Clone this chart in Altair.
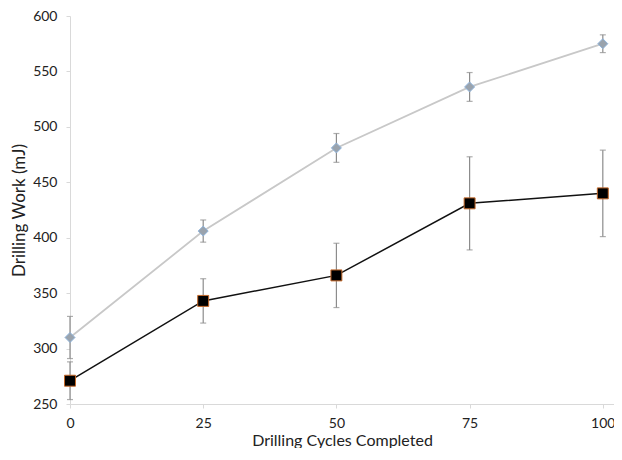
import altair as alt
import pandas as pd

cycles = [0, 25, 50, 75, 100]
gray_mean = [310, 406, 481, 536, 575]
gray_err = [19, 10, 13, 13, 8]
black_mean = [271, 343, 366, 431, 440]
black_err = [17, 20, 29, 42, 39]
x_ticks = [0, 25, 50, 75, 100]
y_ticks = [250, 300, 350, 400, 450, 500, 550, 600]

rows = []
for s, m, e in (("A", gray_mean, gray_err), ("B", black_mean, black_err)):
    for x, v, d in zip(cycles, m, e):
        rows.append({"series": s, "x": x, "y": v, "lo": v - d, "hi": v + d})
df = pd.DataFrame(rows)

xs = alt.Scale(domain=[0, 102.1], nice=False, zero=False)
ys = alt.Scale(domain=[250, 600], nice=False, zero=False)

X = alt.X("x:Q", scale=xs, title="Drilling Cycles Completed",
          axis=alt.Axis(values=x_ticks, grid=False, domainColor="#d9d9d9", tickColor="#d9d9d9",
                        tickSize=4, labelPadding=8, titlePadding=2, labelFontSize=14,
                        labelFlush=False,
                        titleFontSize=16, titleFontWeight="normal", labelColor="#222",
                        titleColor="#222", labelFont="Lato", titleFont="Lato"))
Y = alt.Y("y:Q", scale=ys, title="Drilling Work (mJ)",
          axis=alt.Axis(values=y_ticks, grid=False, domainColor="#d9d9d9", tickColor="#d9d9d9",
                        tickSize=4, labelPadding=9, titlePadding=4, labelFontSize=14,
                        titleFontSize=17, titleFontWeight="normal", labelColor="#222",
                        titleColor="#222", labelFont="Lato", titleFont="Lato"))

base = alt.Chart(df)

line_a = base.transform_filter("datum.series == 'A'").mark_line(color="#c8c8c8", strokeWidth=1.8).encode(x=X, y=Y)
line_b = base.transform_filter("datum.series == 'B'").mark_line(color="#111111", strokeWidth=1.5).encode(x=X, y=Y)

err = base.mark_rule(color="#8c8c8c", strokeWidth=1.2).encode(
    x=alt.X("x:Q", scale=xs), y=alt.Y("lo:Q", scale=ys), y2="hi:Q")
cap_lo = base.mark_tick(color="#8c8c8c", orient="horizontal", size=6, thickness=1.2).encode(
    x=alt.X("x:Q", scale=xs), y=alt.Y("lo:Q", scale=ys))
cap_hi = base.mark_tick(color="#8c8c8c", orient="horizontal", size=6, thickness=1.2).encode(
    x=alt.X("x:Q", scale=xs), y=alt.Y("hi:Q", scale=ys))

pts_a = base.transform_filter("datum.series == 'A'").mark_point(
    shape="diamond", filled=True, size=100, color="#9aa3ad", stroke="#8fb4dc", strokeWidth=1, opacity=1
).encode(x=X, y=Y)
pts_b = base.transform_filter("datum.series == 'B'").mark_point(
    shape="square", filled=True, size=120, color="#000000", stroke="#c5692a", strokeWidth=1, opacity=1
).encode(x=X, y=Y)

chart = alt.layer(line_a, line_b, err, cap_lo, cap_hi, pts_a, pts_b).properties(
    width=544, height=388,
    autosize=alt.AutoSizeParams(type="none"),
    padding={"left": 62, "top": 8, "right": 0, "bottom": 44},
).configure_view(stroke=None)

chart.save("out.html", embed_options={"renderer": "svg", "actions": False})
